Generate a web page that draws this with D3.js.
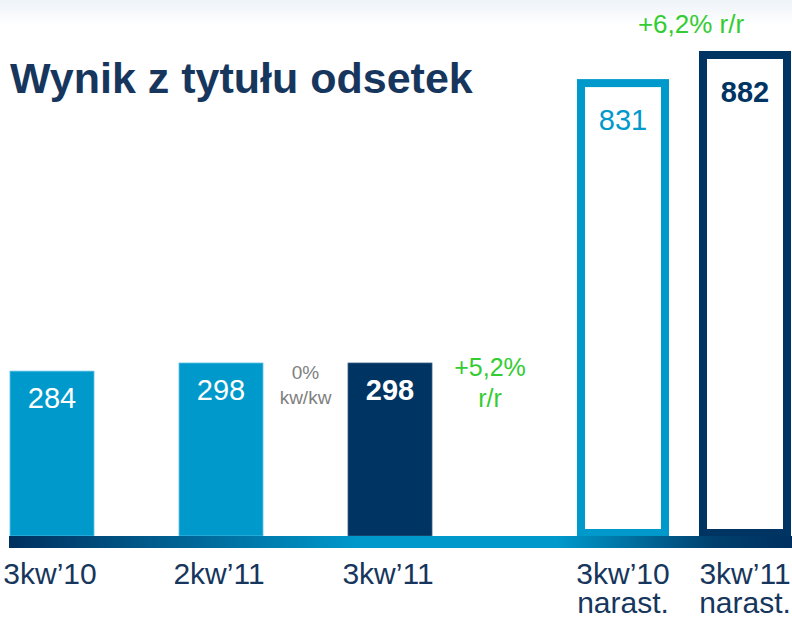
<!DOCTYPE html>
<html><head><meta charset="utf-8">
<script src="https://cdn.jsdelivr.net/npm/d3@7"></script>
<style>html,body{margin:0;padding:0;background:#fff;}svg{display:block;font-family:"Liberation Sans",Arial,sans-serif;}</style>
</head><body>
<script>
// ---- data ----
const title = "Wynik z tytułu odsetek";
const quarterCats = ["3kw\u201910", "2kw\u201911", "3kw\u201911"];
const quarterVals = [284, 298, 298];
const quarterBold = [false, false, true];
const cumCats = [["3kw\u201910", "narast."], ["3kw\u201911", "narast."]];
const cumVals = [831, 882];
const cumBold = [false, true];
const qoqLabel = ["0%", "kw/kw"];
const yoyQLabel = ["+5,2%", "r/r"];
const yoyCumLabel = "+6,2% r/r";

const W = 792, H = 618;
const LIGHT = "#0099cc", NAVY = "#003462", TXT = "#17365d", GREEN = "#33cc33", GREY = "#808080";
const base = 536;

const svg = d3.select("body").append("svg").attr("width", W).attr("height", H);
const defs = svg.append("defs");
const g1 = defs.append("linearGradient").attr("id", "axisGrad").attr("x1", 0).attr("x2", 1).attr("y1", 0).attr("y2", 0);
[[0, "#00305f"], [0.45, "#0099cc"], [0.7, "#0099cc"], [0.9, "#00406e"], [1, "#00305f"]].forEach(s => g1.append("stop").attr("offset", s[0]).attr("stop-color", s[1]));
const g2 = defs.append("linearGradient").attr("id", "topGrad").attr("x1", 0).attr("x2", 0).attr("y1", 0).attr("y2", 1);
g2.append("stop").attr("offset", 0).attr("stop-color", "#eef3f8");
g2.append("stop").attr("offset", 1).attr("stop-color", "#ffffff");
svg.append("rect").attr("x", 0).attr("y", 0).attr("width", W).attr("height", 26).attr("fill", "url(#topGrad)");

// ---- scales ----
const xQ = d3.scaleBand().domain(quarterCats).range([10, 432]).paddingInner(0.503).paddingOuter(0);
const yQ = d3.scaleLinear().domain([0, 298]).range([base, 363]);
const cumKeys = cumCats.map(c => c.join(" "));
const xC = d3.scaleBand().domain(cumKeys).range([577, 791]).paddingInner(0.246).paddingOuter(0);
const yC = d3.scaleLinear().domain([0, 882]).range([537, 51]);

// ---- title ----
svg.append("text").attr("x", 10).attr("y", 93).attr("fill", TXT)
  .attr("font-size", 43).attr("font-weight", "bold").text(title);

// ---- quarterly bars ----
const qData = quarterCats.map((c, i) => ({c, v: quarterVals[i], b: quarterBold[i]}));
svg.selectAll("rect.q").data(qData).join("rect").attr("class", "q")
  .attr("x", d => xQ(d.c)).attr("width", xQ.bandwidth())
  .attr("y", d => yQ(d.v)).attr("height", d => base - yQ(d.v))
  .attr("fill", d => d.b ? NAVY : LIGHT)
  .attr("stroke", d => d.b ? "#3d5f86" : "#5cc0e6").attr("stroke-width", 0.8);
svg.selectAll("text.qv").data(qData).join("text").attr("class", "qv")
  .attr("x", d => xQ(d.c) + xQ.bandwidth() / 2).attr("y", d => yQ(d.v) + 37)
  .attr("text-anchor", "middle").attr("fill", "#fff").attr("font-size", 29)
  .attr("font-weight", d => d.b ? "bold" : "normal").text(d => d.v);

// ---- cumulative outline bars ----
const sw = 8;
const cData = cumKeys.map((c, i) => ({c, lines: cumCats[i], v: cumVals[i], b: cumBold[i]}));
svg.selectAll("rect.c").data(cData).join("rect").attr("class", "c")
  .attr("x", d => xC(d.c) + sw / 2).attr("width", xC.bandwidth() - sw)
  .attr("y", d => yC(d.v) + sw / 2).attr("height", d => 537 - yC(d.v) - sw)
  .attr("fill", "#fff").attr("stroke", d => d.b ? NAVY : LIGHT).attr("stroke-width", sw);
svg.selectAll("text.cv").data(cData).join("text").attr("class", "cv")
  .attr("x", d => xC(d.c) + xC.bandwidth() / 2).attr("y", d => yC(d.v) + 51)
  .attr("text-anchor", "middle").attr("fill", d => d.b ? NAVY : LIGHT).attr("font-size", 29)
  .attr("font-weight", d => d.b ? "bold" : "normal").text(d => d.v);

// ---- axis band ----
svg.append("rect").attr("x", 9).attr("y", base).attr("width", W - 9).attr("height", 12).attr("fill", "url(#axisGrad)");

// ---- category labels ----
svg.selectAll("text.qc").data(quarterCats).join("text").attr("class", "qc")
  .attr("x", d => xQ(d) + xQ.bandwidth() / 2 - 2).attr("y", 584)
  .attr("text-anchor", "middle").attr("fill", TXT).attr("font-size", 30).text(d => d);
const cLines = cData.flatMap(d => d.lines.map((l, i) => ({l, i, x: xC(d.c) + xC.bandwidth() / 2})));
svg.selectAll("text.cc").data(cLines).join("text").attr("class", "cc")
  .attr("x", t => t.x).attr("y", t => 584 + t.i * 29)
  .attr("text-anchor", "middle").attr("fill", TXT).attr("font-size", 30).text(t => t.l);

// ---- annotations ----
const xMid23 = (xQ(quarterCats[1]) + xQ.bandwidth() + xQ(quarterCats[2])) / 2;
svg.selectAll("text.qoq").data(qoqLabel).join("text").attr("class", "qoq")
  .attr("text-anchor", "middle").attr("fill", GREY).attr("font-size", 19)
  .attr("x", xMid23).attr("y", (d, i) => yQ(quarterVals[2]) + 16 + i * 25).text(d => d);

const xAfter3 = xQ(quarterCats[2]) + xQ.bandwidth() + 58;
svg.selectAll("text.yoy").data(yoyQLabel).join("text").attr("class", "yoy")
  .attr("text-anchor", "middle").attr("fill", GREEN).attr("font-size", 25)
  .attr("x", xAfter3).attr("y", (d, i) => yQ(quarterVals[2]) + 13 + i * 31).text(d => d);

svg.append("text").attr("text-anchor", "middle").attr("fill", GREEN).attr("font-size", 26)
  .attr("x", xC(cumKeys[1]) + xC.bandwidth() / 2 - 54).attr("y", yC(cumVals[1]) - 18).text(yoyCumLabel);
</script>
</body></html>
